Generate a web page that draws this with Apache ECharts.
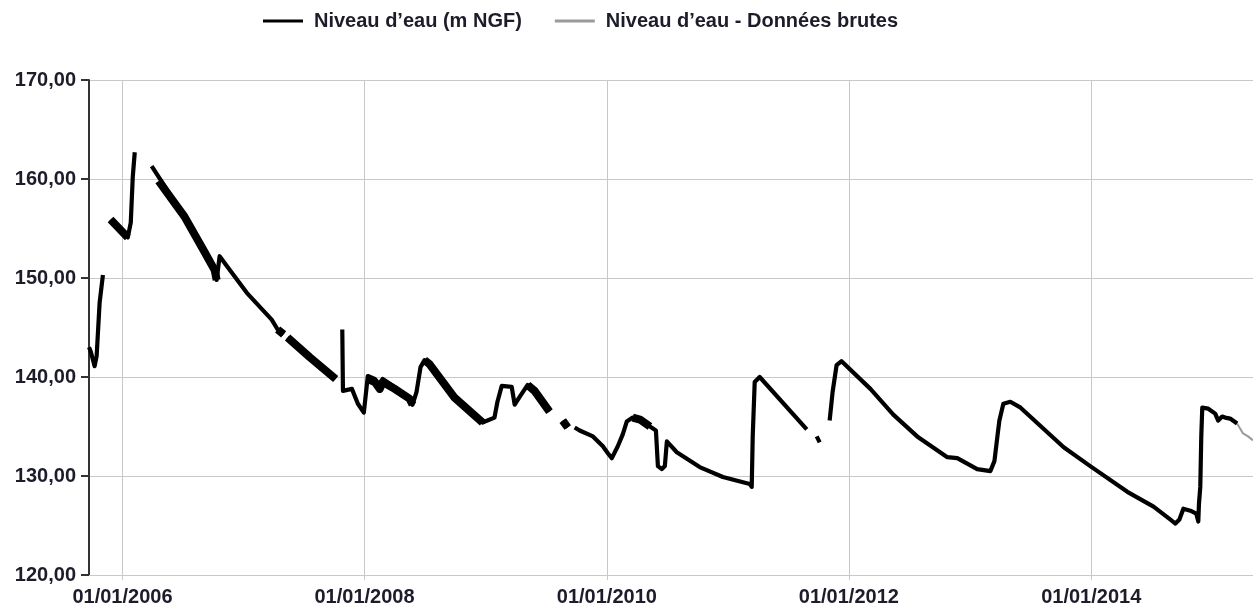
<!DOCTYPE html>
<html>
<head>
<meta charset="utf-8">
<script src="https://cdn.jsdelivr.net/npm/echarts@6/dist/echarts.min.js"></script>
<style>
  html, body { margin: 0; padding: 0; background: #fff; }
  #chart { width: 1253px; height: 607px; }
</style>
</head>
<body>
<div id="chart"></div>
<script>
// Niveau d'eau mesuré (m NGF), null = lacune
const mainDates = [
  '2005-09-22', '2005-09-27', '2005-10-09', '2005-10-15', '2005-10-24', '2005-11-03', '2005-11-14',
  '2005-11-26', '2006-01-17', '2006-01-26', '2006-02-01', '2006-02-07', '2006-03-01',
  '2006-03-30', '2006-07-07', '2006-09-06', '2006-10-06', '2006-10-12', '2006-10-21', '2006-11-14',
  '2007-01-11', '2007-03-27', '2007-04-14', '2007-05-02', '2007-05-08',
  '2007-05-14', '2007-07-20', '2007-10-06', '2007-10-16',
  '2007-10-26', '2007-10-28', '2007-11-24', '2007-12-12', '2007-12-30', '2008-01-11', '2008-02-01',
  '2008-02-16', '2008-02-25', '2008-04-01', '2008-05-16', '2008-05-25', '2008-06-06', '2008-06-18',
  '2008-06-30', '2008-07-15', '2008-09-29', '2008-12-22', '2009-01-27', '2009-02-05', '2009-02-18',
  '2009-03-20', '2009-03-29', '2009-04-13', '2009-05-07', '2009-05-28', '2009-07-12', '2009-07-30',
  '2009-08-21', '2009-09-05', '2009-09-15',
  '2009-09-26', '2009-10-11', '2009-11-20', '2009-12-20', '2010-01-04', '2010-01-16', '2010-02-03',
  '2010-02-18', '2010-03-02', '2010-03-20', '2010-04-11', '2010-05-11', '2010-05-29', '2010-06-04',
  '2010-06-16', '2010-06-25', '2010-07-01', '2010-07-31', '2010-10-08', '2010-12-17', '2011-03-08',
  '2011-03-14', '2011-03-17', '2011-03-23', '2011-04-07', '2011-08-27', '2011-09-10',
  '2011-09-26', '2011-10-05', '2011-10-20',
  '2011-11-04', '2011-11-13', '2011-11-25', '2011-12-10', '2012-03-06', '2012-05-14', '2012-07-25',
  '2012-10-24', '2012-11-23', '2013-01-22', '2013-03-03', '2013-03-15', '2013-03-24', '2013-03-30',
  '2013-04-11', '2013-05-02', '2013-06-02', '2013-10-10', '2013-12-29', '2014-04-20', '2014-07-08',
  '2014-08-28', '2014-09-12', '2014-09-24', '2014-10-06', '2014-10-27', '2014-11-14', '2014-11-20',
  '2014-11-22', '2014-11-26', '2014-11-29', '2014-12-02', '2014-12-20', '2015-01-10', '2015-01-19',
  '2015-01-31', '2015-02-09', '2015-02-24', '2015-03-17'
];
const mainLevels = [
  143.0, 142.6, 141.1, 142.1, 147.5, 150.3, null,
  155.9, 154.1, 155.6, 160.2, 162.7, null,
  161.3, 156.2, 152.6, 150.8, 149.8, 152.2, 151.1,
  148.5, 145.8, 144.8, 144.3, null,
  144.0, 142.0, 139.8, null,
  144.8, 138.6, 138.8, 137.3, 136.4, 140.1, 139.8,
  139.0, 139.8, 139.0, 137.8, 137.2, 138.5, 141.0,
  141.7, 141.3, 137.9, 135.4, 135.9, 137.5, 139.1,
  139.0, 137.2, 138.0, 139.2, 138.6, 136.5, null,
  135.6, 134.9, null,
  134.9, 134.6, 134.0, 133.0, 132.3, 131.8, 133.0,
  134.2, 135.5, 135.9, 135.7, 135.0, 134.6, 131.0,
  130.7, 131.0, 133.5, 132.4, 130.9, 129.9, 129.2,
  128.9, 134.0, 139.5, 140.0, 134.7, null,
  134.0, 133.4, null,
  135.6, 138.5, 141.2, 141.6, 138.8, 136.2, 134.0,
  131.9, 131.8, 130.7, 130.5, 131.5, 134.0, 135.6,
  137.3, 137.5, 136.9, 132.9, 131.0, 128.4, 126.9,
  125.6, 125.2, 125.6, 126.7, 126.5, 126.2, 125.4,
  127.2, 128.9, 134.0, 136.9, 136.8, 136.3, 135.6,
  136.0, 135.9, 135.8, 135.3
];

// Périodes où les mesures oscillent fortement (trait épais)
const bandDates = [
  '2005-11-26', '2006-01-17', '2006-01-20',
  '2006-04-20', '2006-07-07', '2006-09-06', '2006-10-06', '2006-10-12', '2006-10-15',
  '2007-04-14', '2007-05-02', '2007-05-08', '2007-05-14', '2007-07-20', '2007-10-06', '2007-10-10',
  '2008-01-11', '2008-02-01', '2008-02-16', '2008-02-25', '2008-04-01', '2008-05-16', '2008-05-25', '2008-05-30',
  '2008-06-30', '2008-07-15', '2008-09-29', '2008-12-22', '2008-12-30',
  '2009-05-07', '2009-05-28', '2009-07-12', '2009-07-20',
  '2009-08-21', '2009-09-05', '2009-09-10',
  '2010-03-20', '2010-04-11', '2010-05-11'
];
const bandLevels = [
  155.9, 154.1, null,
  159.8, 156.2, 152.6, 150.8, 149.8, null,
  144.8, 144.3, null, 144.0, 142.0, 139.8, null,
  139.8, 139.5, 138.8, 139.5, 138.8, 137.8, 137.2, null,
  141.7, 141.3, 137.9, 135.4, null,
  139.2, 138.6, 136.5, null,
  135.6, 134.9, null,
  135.9, 135.7, 135.0
];

// Données brutes (fin de série)
const rawDates = ['2015-03-17', '2015-04-04', '2015-04-19', '2015-05-04'];
const rawLevels = [135.3, 134.3, 134.0, 133.6];

// Graduations
const xTickDates = ['2006-01-01', '2008-01-01', '2010-01-01', '2012-01-01', '2014-01-01'];
const xMin = '2005-09-22';
const xMax = '2015-05-04';
const yMin = 120;
const yMax = 170;
const yStep = 10;

const seriesNames = ['Niveau d’eau (m NGF)', 'Niveau d’eau - Données brutes'];

const toTime = d => new Date(d + 'T00:00:00Z').getTime();
const pad = n => String(n).padStart(2, '0');

const mainData = mainDates.map((d, i) => [toTime(d), mainLevels[i]]);
const bandData = bandDates.map((d, i) => [toTime(d), bandLevels[i]]);
const rawData = rawDates.map((d, i) => [toTime(d), rawLevels[i]]);
const tickTimes = xTickDates.map(toTime);

const textColor = '#1c1c2a';
const font = 'Liberation Sans, Arial, sans-serif';

const chart = echarts.init(document.getElementById('chart'));
chart.setOption({
  animation: false,
  backgroundColor: '#fff',
  legend: {
    left: 263,
    top: 11,
    padding: 0,
    itemWidth: 40,
    itemHeight: 3,
    itemGap: 33,
    icon: 'rect',
    textStyle: {
      fontFamily: font,
      fontWeight: 'bold',
      fontSize: 20,
      color: textColor,
      padding: [0, 0, 0, 6]
    },
    data: seriesNames
  },
  grid: {
    left: 89,
    right: 0,
    top: 80,
    bottom: 31,
    containLabel: false
  },
  xAxis: {
    // axe en valeurs (ms) pour placer les graduations au 01/01 des années paires
    type: 'value',
    min: toTime(xMin),
    max: toTime(xMax),
    axisLine: { show: true, lineStyle: { color: '#c8c8c8', width: 1 } },
    axisTick: {
      show: true,
      length: 5,
      customValues: tickTimes,
      lineStyle: { color: '#c8c8c8' }
    },
    splitLine: { show: true, lineStyle: { color: '#c8c8c8', width: 1 } },
    axisLabel: {
      customValues: tickTimes,
      margin: 12,
      fontFamily: font,
      fontWeight: 'bold',
      fontSize: 20,
      color: textColor,
      formatter: v => {
        const d = new Date(v);
        return pad(d.getUTCDate()) + '/' + pad(d.getUTCMonth() + 1) + '/' + d.getUTCFullYear();
      }
    }
  },
  yAxis: {
    type: 'value',
    min: yMin,
    max: yMax,
    interval: yStep,
    axisLine: { show: true, lineStyle: { color: '#333', width: 2 } },
    axisTick: { show: true, length: 8, lineStyle: { color: '#333', width: 2 } },
    splitLine: { show: true, lineStyle: { color: '#c8c8c8', width: 1 } },
    axisLabel: {
      margin: 13,
      fontFamily: font,
      fontWeight: 'bold',
      fontSize: 20,
      color: textColor,
      formatter: v => v.toFixed(2).replace('.', ',')
    }
  },
  series: [
    {
      name: seriesNames[1],
      type: 'line',
      data: rawData,
      symbol: 'none',
      color: '#9a9a9a',
      lineStyle: { color: '#9a9a9a', width: 2 }
    },
    {
      name: seriesNames[0],
      type: 'line',
      data: mainData,
      symbol: 'none',
      connectNulls: false,
      color: '#000',
      lineStyle: { color: '#000', width: 4.2, join: 'round' }
    },
    {
      name: seriesNames[0],
      type: 'line',
      data: bandData,
      symbol: 'none',
      connectNulls: false,
      color: '#000',
      lineStyle: { color: '#000', width: 8, join: 'round' }
    }
  ]
});
</script>
</body>
</html>
